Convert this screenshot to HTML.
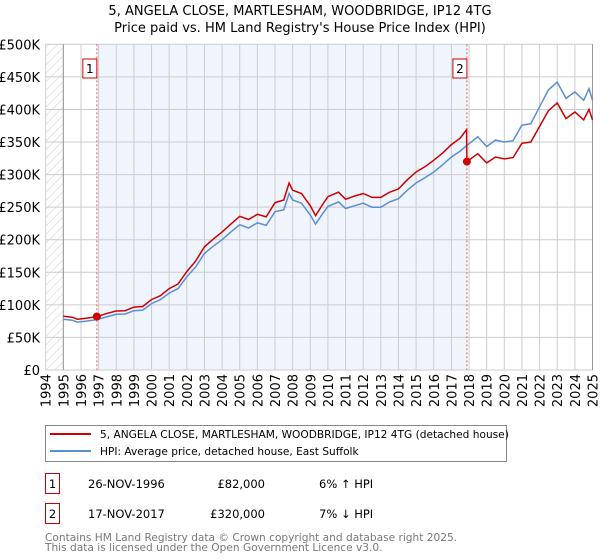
<!DOCTYPE html>
<html><head><meta charset="utf-8"><style>
body{margin:0;background:#fff;font-family:"DejaVu Sans","Liberation Sans",sans-serif;}
#wrap{position:relative;width:600px;height:560px;overflow:hidden}
svg text{font-family:"DejaVu Sans","Liberation Sans",sans-serif}
</style></head><body>
<div id="wrap">
<svg id="chart" width="600" height="560"></svg>
</div>
<script>
const yTicks=[0,50000,100000,150000,200000,250000,300000,350000,400000,450000,500000];
const yTickLabels=["£0","£50K","£100K","£150K","£200K","£250K","£300K","£350K","£400K","£450K","£500K"];
const xYears=[1994,1995,1996,1997,1998,1999,2000,2001,2002,2003,2004,2005,2006,2007,2008,2009,2010,2011,2012,2013,2014,2015,2016,2017,2018,2019,2020,2021,2022,2023,2024,2025];
const hpiDates=[1995,1995.5,1995.8,1996.3,1996.9,1997.5,1998,1998.5,1999,1999.5,2000,2000.5,2001,2001.5,2002,2002.5,2003,2003.5,2004,2004.5,2005,2005.5,2006,2006.5,2007,2007.5,2007.8,2008,2008.5,2009,2009.3,2009.7,2010,2010.6,2011,2011.5,2012,2012.5,2013,2013.5,2014,2014.5,2015,2015.5,2016,2016.5,2017,2017.5,2017.88,2018.5,2019,2019.5,2020,2020.5,2021,2021.5,2022,2022.5,2023,2023.5,2024,2024.5,2024.8,2025];
const hpiValues=[77800,76500,73500,75000,77300,82000,85500,86000,91000,92000,102000,108000,118000,125000,143000,158000,179000,190000,200000,212000,223000,218000,226000,222000,243000,246000,271000,261000,256000,238000,224000,240000,251000,258000,248000,252000,256000,250000,250000,258000,263000,276000,287000,295000,304000,315000,327000,336000,345000,358000,343000,353000,350000,352000,376000,378000,404000,430000,442000,417000,427000,414000,432000,414000];
const priceDates=[1995,1995.5,1995.8,1996.3,1996.9,1997.5,1998,1998.5,1999,1999.5,2000,2000.5,2001,2001.5,2002,2002.5,2003,2003.5,2004,2004.5,2005,2005.5,2006,2006.5,2007,2007.5,2007.8,2008,2008.5,2009,2009.3,2009.7,2010,2010.6,2011,2011.5,2012,2012.5,2013,2013.5,2014,2014.5,2015,2015.5,2016,2016.5,2017,2017.5,2017.86,2017.88,2018.5,2019,2019.5,2020,2020.5,2021,2021.5,2022,2022.5,2023,2023.5,2024,2024.5,2024.8,2025];
const priceValues=[82500,81000,78000,79500,82000,87000,90500,91000,96500,97500,108000,114000,125000,132000,151000,167000,189000,201000,212000,224000,236000,231000,239000,235000,257000,261000,287000,276000,271000,252000,237000,254000,266000,273000,262000,267000,271000,265000,265000,273000,278000,292000,304000,312000,322000,333000,346000,356000,369000,320000,332000,318000,327000,324000,326000,348000,350000,374000,398000,410000,386000,396000,384000,400000,384000];
const sales=[{n:"1",d:1996.9,v:82000},{n:"2",d:2017.88,v:320000}];

const NS="http://www.w3.org/2000/svg";
const svg=document.getElementById('chart');
const X0=45.7,X1=592.5,Y0=370,Y1=44.3;
const xs=y=>X0+(y-1994)*(X1-X0)/31;
const ys=v=>Y0-v*(Y0-Y1)/500000;
function mk(tag,attrs,parent){const e=document.createElementNS(NS,tag);for(const k in attrs)e.setAttribute(k,attrs[k]);(parent||svg).appendChild(e);return e;}

const defs=mk('defs',{});
const pat=mk('pattern',{id:'hatch',width:6,height:6,patternUnits:'userSpaceOnUse',patternTransform:'rotate(45)'},defs);
mk('line',{x1:0,y1:0,x2:0,y2:6,stroke:'#ccc','stroke-width':1},pat);

let t=mk('text',{x:300,y:15,'text-anchor':'middle','font-size':'13',fill:'#000'});
t.textContent="5, ANGELA CLOSE, MARTLESHAM, WOODBRIDGE, IP12 4TG";


t=mk('text',{x:300,y:32,'text-anchor':'middle','font-size':'13',fill:'#000'});
t.textContent="Price paid vs. HM Land Registry's House Price Index (HPI)";



let r=mk('rect',{x:X0,y:Y1,width:xs(1995)-X0,height:Y0-Y1,fill:'url(#hatch)'});


r=mk('rect',{x:xs(sales[0].d),y:Y1,width:xs(sales[1].d)-xs(sales[0].d),height:Y0-Y1,fill:'#f0f4fd'});



const grid=mk('g',{});


xYears.forEach(yr=>{mk('line',{x1:xs(yr),x2:xs(yr),y1:Y1,y2:Y0,stroke:'#cccccc','stroke-width':1},grid);});
yTicks.forEach(v=>{mk('line',{x1:X0,x2:X1,y1:ys(v),y2:ys(v),stroke:'#cccccc','stroke-width':1},grid);});
mk('line',{x1:xs(1995),x2:xs(1995),y1:Y1,y2:Y0,stroke:'#999','stroke-width':1},grid);
mk('line',{x1:X1,x2:X1,y1:Y1,y2:Y0,stroke:'#999','stroke-width':1},grid);

const yax=mk('g',{});


yTicks.forEach((v,i)=>{const tt=mk('text',{x:40,y:ys(v)+5,'text-anchor':'end','font-size':'13',fill:'#000'},yax);tt.textContent=yTickLabels[i];});
const xax=mk('g',{});


xYears.forEach(yr=>{const x=xs(yr)+5,y=374;const tt=mk('text',{x:x,y:y,'text-anchor':'end','font-size':'13',fill:'#000',transform:`rotate(-90 ${x} ${y})`},xax);tt.textContent=String(yr);});

sales.forEach(s=>{
  const l=mk('line',{x1:xs(s.d),x2:xs(s.d),y1:Y1,y2:Y0,stroke:'#e06666','stroke-width':1,'stroke-dasharray':'2,2'});
  
  
  const g=mk('g',{});
  
  
  mk('rect',{x:xs(s.d)-14,y:59,width:14,height:19,fill:'#fff',stroke:'#cc0000','stroke-width':1},g);
  const tt=mk('text',{x:xs(s.d)-7,y:73,'text-anchor':'middle','font-size':'12',fill:'#000'},g);tt.textContent=s.n;
});

function path(d,v){return d.map((x,i)=>(i?'L':'M')+xs(x).toFixed(1)+','+ys(v[i]).toFixed(1)).join('');}
let p=mk('path',{d:path(hpiDates,hpiValues),fill:'none',stroke:'#5b8fd4','stroke-width':1.5});


p=mk('path',{d:path(priceDates,priceValues),fill:'none',stroke:'#cc0000','stroke-width':1.5});


sales.forEach(s=>{const c=mk('circle',{cx:xs(s.d),cy:ys(s.v),r:4,fill:'#cc0000'});

});

const lg=mk('g',{});


mk('rect',{x:45.5,y:425.5,width:461,height:36,fill:'#fff',stroke:'#888','stroke-width':1},lg);
mk('line',{x1:50,x2:91,y1:434,y2:434,stroke:'#cc0000','stroke-width':2},lg);
mk('line',{x1:50,x2:91,y1:451,y2:451,stroke:'#5b8fd4','stroke-width':2},lg);
t=mk('text',{x:100,y:438,'font-size':'10.6',fill:'#000'},lg);t.textContent="5, ANGELA CLOSE, MARTLESHAM, WOODBRIDGE, IP12 4TG (detached house)";
t=mk('text',{x:100,y:455,'font-size':'10.6',fill:'#000'},lg);t.textContent="HPI: Average price, detached house, East Suffolk";

const rows=[["1","26-NOV-1996","£82,000","6% ↑ HPI",483],["2","17-NOV-2017","£320,000","7% ↓ HPI",513]];
rows.forEach(rw=>{
  const g=mk('g',{});
  
  
  mk('rect',{x:45.5,y:rw[4]-9.5,width:14,height:20,fill:'#fff',stroke:'#cc0000','stroke-width':1},g);
  let tt=mk('text',{x:52.5,y:rw[4]+5,'text-anchor':'middle','font-size':'11.5',fill:'#000'},g);tt.textContent=rw[0];
  tt=mk('text',{x:88,y:rw[4]+5,'font-size':'11.5',fill:'#000'},g);tt.textContent=rw[1];
  tt=mk('text',{x:265,y:rw[4]+5,'text-anchor':'end','font-size':'11.5',fill:'#000'},g);tt.textContent=rw[2];
  tt=mk('text',{x:319,y:rw[4]+5,'font-size':'11.5',fill:'#000'},g);tt.textContent=rw[3];
});
t=mk('text',{x:45,y:541,'font-size':'10.6',fill:'#777'});t.textContent="Contains HM Land Registry data © Crown copyright and database right 2025.";


t=mk('text',{x:45,y:551,'font-size':'10.6',fill:'#777'});t.textContent="This data is licensed under the Open Government Licence v3.0.";


</script>
</body></html>
